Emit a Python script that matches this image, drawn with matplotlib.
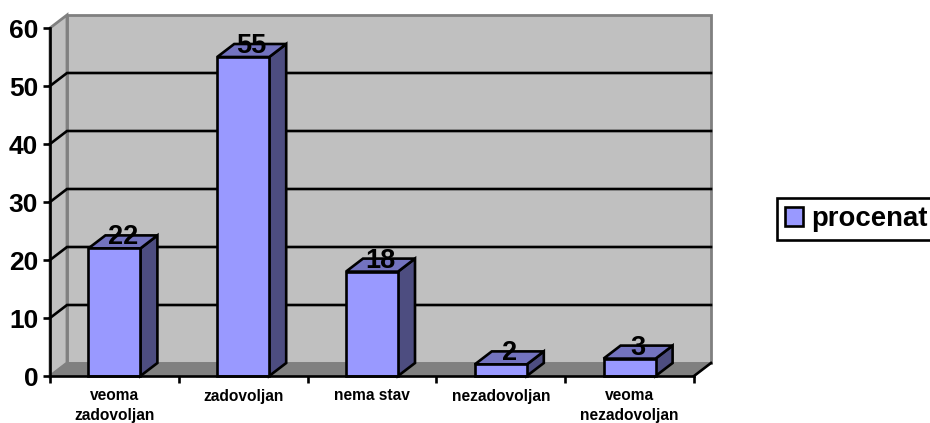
import matplotlib
matplotlib.use("Agg")
import matplotlib.pyplot as plt
from matplotlib.transforms import ScaledTranslation

plt.rcParams['font.family'] = ['Liberation Sans', 'DejaVu Sans']
plt.rcParams['font.weight'] = 'bold'

categories = ["veoma\nzadovoljan", "zadovoljan", "nema stav", "nezadovoljan", "veoma\nnezadovoljan"]
values = [22, 55, 18, 2, 3]
y_ticks = [0, 10, 20, 30, 40, 50, 60]
series_name = "procenat"

W, H = 930, 423
L, R, T, B = 50, 694, 28, 376
fig = plt.figure(figsize=(W / 100, H / 100), dpi=100, facecolor="white")
ax = fig.add_axes([L / W, 1 - B / H, (R - L) / W, (B - T) / H])
ax.set_xlim(-0.5, 4.5)
ax.set_ylim(0, 60)
ax.patch.set_visible(False)

DX = 17 / ((R - L) / 5)
DY = 13 / ((B - T) / 60)
BW = 52 / ((R - L) / 5)
X0, X1, Y1 = -0.5, 4.5, 60
WALL, FLOOR, EDGE = "#C0C0C0", "#808080", "#808080"
LW = 1.9

# walls and floor
ax.fill([X0 + DX, X1 + DX, X1 + DX, X0 + DX], [DY, DY, Y1 + DY, Y1 + DY], fc=WALL, ec=EDGE, lw=2, clip_on=False, zorder=1)
ax.fill([X0, X0 + DX, X0 + DX, X0], [0, DY, Y1 + DY, Y1], fc=WALL, ec=EDGE, lw=2, clip_on=False, zorder=1)
ax.fill([X0, X1, X1 + DX, X0 + DX], [0, 0, DY, DY], fc=FLOOR, ec=EDGE, lw=1, clip_on=False, zorder=1)
ax.plot([X1, X1 + DX], [0, DY], color="black", lw=LW, clip_on=False, zorder=2)

# gridlines
for v in y_ticks[1:-1]:
    ax.plot([X0, X0 + DX, X1 + DX], [v, v + DY, v + DY], color="black", lw=LW, clip_on=False, zorder=2,
            solid_joinstyle="miter")

# bars
xs = list(range(len(values)))
bars = ax.bar(xs, values, width=BW, color="#9999FF", edgecolor="black", linewidth=LW, zorder=5,
              clip_on=False, label=series_name)
label_shift = ScaledTranslation(0, -2 / 100, fig.dpi_scale_trans)
for x, v in zip(xs, values):
    l, r = x - BW / 2, x + BW / 2
    ax.fill([r, r + DX, r + DX, r], [0, DY, v + DY, v], fc="#4D4D80", ec="black", lw=LW, zorder=4,
            clip_on=False, joinstyle="miter")
    ax.fill([l, r, r + DX, l + DX], [v, v, v + DY, v + DY], fc="#7373BF", ec="black", lw=LW, zorder=4,
            clip_on=False, joinstyle="miter")
    ax.text(x + DX / 2, v + DY, str(v), ha="center", va="center", fontsize=19.5, fontweight="bold",
            color="black", zorder=7, clip_on=False, transform=ax.transData + label_shift)

# axes
for s in ("top", "right"):
    ax.spines[s].set_visible(False)
for s in ("left", "bottom"):
    ax.spines[s].set_linewidth(LW)
    ax.spines[s].set_zorder(6)
ax.set_yticks(y_ticks)
ax.tick_params(axis="y", direction="out", length=5, width=LW, pad=3.5, labelsize=19)
ax.set_xticks([i - 0.5 for i in range(len(values) + 1)])
ax.set_xticklabels([])
ax.tick_params(axis="x", which="major", direction="out", length=5, width=LW)
ax.set_xticks(xs, minor=True)
ax.set_xticklabels(categories, minor=True, fontsize=11.2, fontweight="bold", linespacing=1.35)
ax.tick_params(axis="x", which="minor", length=0, pad=9)
for t in ax.get_yticklabels():
    t.set_fontweight("bold")

# legend
leg = fig.legend(handles=[bars], labels=[series_name], loc="center left",
                 bbox_to_anchor=(777 / W, 1 - 219 / H), bbox_transform=fig.transFigure,
                 prop={"size": 19.8, "weight": "bold"}, fancybox=False, framealpha=1,
                 edgecolor="black", borderaxespad=0, handlelength=0.66, handleheight=0.66,
                 handletextpad=0.28, borderpad=0.3)
leg.get_frame().set_linewidth(LW)

fig.savefig("out.png", dpi=100, facecolor="white")
